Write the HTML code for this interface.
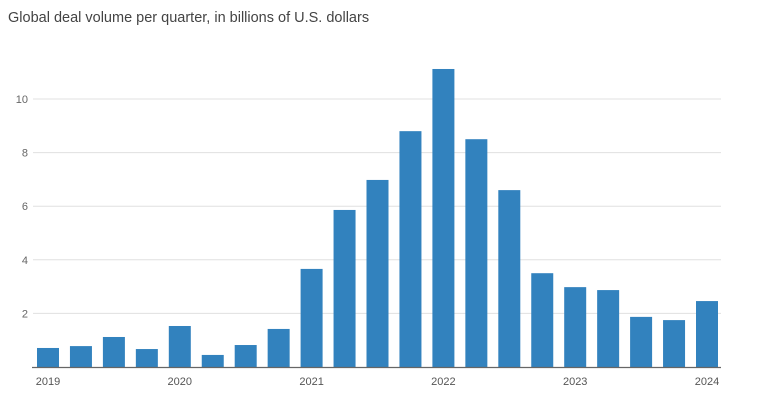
<!DOCTYPE html>
<html><head><meta charset="utf-8"><style>
body{margin:0;background:#fff;width:759px;height:402px;overflow:hidden;font-family:"Liberation Sans",sans-serif}
</style></head><body>
<svg width="759" height="402" id="c">
<text x="8" y="22" font-size="14.5" fill="#444">Global deal volume per quarter, in billions of U.S. dollars</text>
</svg>
<script>
const values=[0.71,0.78,1.12,0.67,1.53,0.45,0.82,1.42,3.66,5.86,6.98,8.8,11.12,8.5,6.6,3.5,2.98,2.87,1.87,1.75,2.46];
const yTicks=[2,4,6,8,10];
const xLabels=["2019","2020","2021","2022","2023","2024"];
const xLabelIdx=[0,4,8,12,16,20];
const svg=document.getElementById('c');const NS='http://www.w3.org/2000/svg';
const y0=367,pu=26.8,x0=37,pitch=32.95,bw=22;
const y=v=>y0-v*pu;const x=i=>x0+i*pitch;
function mk(t,a){const e=document.createElementNS(NS,t);for(const k in a)e.setAttribute(k,a[k]);svg.appendChild(e);return e;}
yTicks.forEach(t=>{
 const l=mk('line',{x1:33,x2:721,y1:y(t),y2:y(t),stroke:'#e0e0e0','stroke-width':1});
 
 
 const tx=mk('text',{x:28,y:y(t)+4,'text-anchor':'end','font-size':11,fill:'#666'});tx.textContent=t;
 
 
});
values.forEach((v,i)=>{
 const r=mk('rect',{x:x(i),y:y(v),width:bw,height:v*pu,fill:'#3282be'});
 
 
});
const ax=mk('line',{x1:32,x2:721,y1:y0+0.5,y2:y0+0.5,stroke:'#666','stroke-width':1.2});


xLabels.forEach((s,j)=>{
 const tx=mk('text',{x:x(xLabelIdx[j])+bw/2,y:385,'text-anchor':'middle','font-size':11,fill:'#555'});tx.textContent=s;
 
 
});
</script>
</body></html>
